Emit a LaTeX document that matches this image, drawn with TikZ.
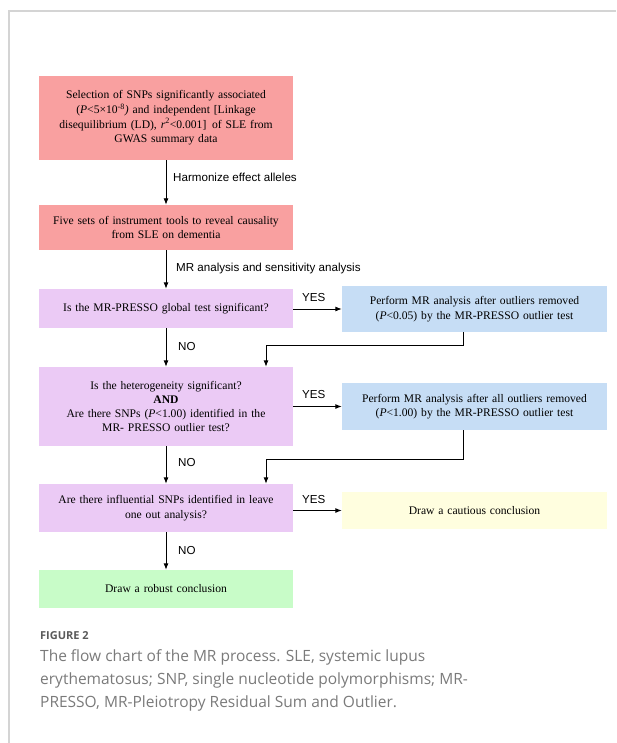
\documentclass[tikz,border=0pt]{standalone}
\usepackage{fontspec}
\setmainfont{Liberation Serif}
\newfontfamily\lsans{Liberation Sans}
\newfontfamily\osans{Open Sans}
\usetikzlibrary{arrows.meta}
\definecolor{redbox}{HTML}{F9A0A0}
\definecolor{purplebox}{HTML}{EBCAF5}
\definecolor{bluebox}{HTML}{C6DDF5}
\definecolor{greenbox}{HTML}{C8FCC8}
\definecolor{yellowbox}{HTML}{FFFEDF}
\definecolor{framegray}{HTML}{D4D4D4}
\definecolor{capgray}{HTML}{7A7A7A}
\definecolor{figgray}{HTML}{5A5A5A}
\begin{document}
\begin{tikzpicture}[x=1pt,y=-1pt,
  box/.style={rectangle, inner sep=0pt, align=center, font=\fontsize{11.6}{14.6}\selectfont},
  lbox/.style={box, minimum width=254pt},
  rbox/.style={box, minimum width=265pt},
  arr/.style={line width=0.9pt, -{Latex[length=6.5pt,width=5pt]}},
  lab/.style={anchor=west, inner sep=0pt, font=\lsans\fontsize{11.6}{13}\selectfont},
  captext/.style={anchor=mid west, inner sep=0pt, text=capgray, font=\osans\fontsize{15.5}{19}\selectfont}]
\useasboundingbox (0,0) rectangle (616,743);
\draw[framegray, line width=1.3pt] (9,743) -- (9,11) -- (616,11);

\node[lbox, fill=redbox, minimum height=84pt, text width=250pt] (s1) at (166,118)
  {Selection of SNPs significantly associated\\
   (\textit{P}<5×10\textsuperscript{-8}\textit{)} and independent [Linkage\\
   disequilibrium (LD), \textit{r}\textsuperscript{2}<0.001]\, of SLE from\\
   GWAS summary data};
\node[lbox, fill=redbox, minimum height=45pt, text width=250pt] (s2) at (166,227.5)
  {Five sets of instrument tools to reveal causality\\ from SLE on dementia};
\node[lbox, fill=purplebox, minimum height=39pt, text width=250pt] (p1) at (166,308.5)
  {Is the MR-PRESSO global test significant?};
\node[lbox, fill=purplebox, minimum height=79pt, text width=250pt, font=\fontsize{11.6}{13.8}\selectfont] (p2) at (166,406.5)
  {Is the heterogeneity significant?\\ \textbf{AND}\\
   Are there SNPs (\textit{P}<1.00) identified in the\\ MR- PRESSO outlier test?};
\node[lbox, fill=purplebox, minimum height=48pt, text width=250pt] (p3) at (166,508)
  {Are there influential SNPs identified in leave\\ one out analysis?};
\node[lbox, fill=greenbox, minimum height=38pt, text width=250pt] (g) at (166,589)
  {Draw a robust conclusion};
\node[rbox, fill=bluebox, minimum height=46pt, text width=260pt] (b1) at (474.5,309)
  {Perform MR analysis after outliers removed\\ (\textit{P}<0.05) by the MR-PRESSO outlier test};
\node[rbox, fill=bluebox, minimum height=47pt, text width=260pt] (b2) at (474.5,406.5)
  {Perform MR analysis after all outliers removed\\ (\textit{P}<1.00) by the MR-PRESSO outlier test};
\node[rbox, fill=yellowbox, minimum height=37pt, text width=260pt] (yb) at (474.5,510.5)
  {Draw a cautious conclusion};

\draw[arr] (s1) -- (s2);
\draw[arr] (s2) -- (p1);
\draw[arr] (p1) -- (p2);
\draw[arr] (p2) -- (p3);
\draw[arr] (p3) -- (g);

\node[lab] (l1) at (173,177) {Harmonize effect alleles};
\node[lab] (l2) at (176,269) {MR analysis and sensitivity analysis};
\node[lab] (l3) at (178,347) {NO};
\node[lab] (l4) at (178,463) {NO};
\node[lab] (l5) at (178,551) {NO};

\draw[arr] (p1.east |- b1.west) -- (b1.west);
\draw[arr] (p2.east) -- (p2.east -| b2.west);
\draw[arr] (p3.east |- yb.west) -- (yb.west);
\node[lab] (y1) at (302,298) {YES};
\node[lab] (y2) at (302,395) {YES};
\node[lab] (y3) at (302,500) {YES};

\coordinate (f1) at (463,345);
\coordinate (f1x) at (266,345);
\draw[arr] (b1.south -| f1) -- (f1) -- (f1x) -- (f1x |- p2.north);
\coordinate (f2) at (463,459);
\coordinate (f2x) at (266,459);
\draw[arr] (b2.south -| f2) -- (f2) -- (f2x) -- (f2x |- p3.north);

\node[anchor=mid west, inner sep=0pt, text=figgray, font=\osans\bfseries\fontsize{11}{13}\selectfont] (fig) at (40,637) {FIGURE 2};
\node[captext] (c1) at (40,659) {The flow chart of the MR process. SLE, systemic lupus};
\node[captext] (c2) at (40,682) {erythematosus; SNP, single nucleotide polymorphisms; MR-};
\node[captext] (c3) at (40,705) {PRESSO, MR-Pleiotropy Residual Sum and Outlier.};
\end{tikzpicture}
\end{document}
